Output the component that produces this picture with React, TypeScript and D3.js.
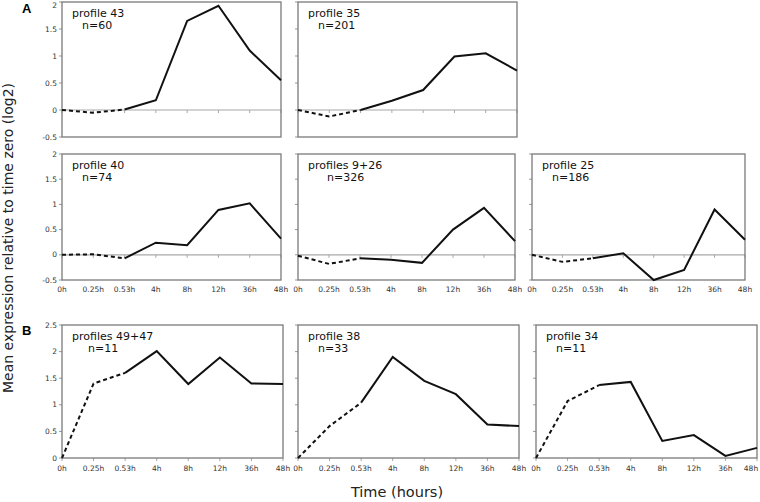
import React from "react";
import * as d3 from "d3";

const timeLabels = ["0h", "0.25h", "0.53h", "4h", "8h", "12h", "36h", "48h"];

const profile43 = [0, -0.05, 0.01, 0.18, 1.65, 1.93, 1.1, 0.55];
const profile35 = [0, -0.12, 0, 0.17, 0.37, 0.99, 1.05, 0.73];
const profile40 = [0, 0.01, -0.07, 0.24, 0.19, 0.89, 1.02, 0.32];
const profiles9_26 = [-0.02, -0.18, -0.07, -0.1, -0.16, 0.5, 0.93, 0.27];
const profile25 = [0, -0.14, -0.07, 0.03, -0.5, -0.3, 0.9, 0.3];
const profiles49_47 = [0, 1.4, 1.6, 2.01, 1.39, 1.89, 1.4, 1.39];
const profile38 = [0, 0.6, 1.04, 1.9, 1.45, 1.2, 0.63, 0.6];
const profile34 = [0, 1.07, 1.37, 1.43, 0.32, 0.43, 0.04, 0.19];

const rowATicks = [-0.5, 0, 0.5, 1, 1.5, 2];
const rowBTicks = [0, 0.5, 1, 1.5, 2, 2.5];

type Panel = { name: string; n: string; values: number[]; x0: number; x1: number };
type Row = {
  y0: number; y1: number; domain: [number, number]; ticks: number[];
  showX: boolean; panels: Panel[];
};

const rows: Row[] = [
  {
    y0: 2, y1: 137, domain: [-0.5, 2], ticks: rowATicks, showX: false,
    panels: [
      { name: "profile 43", n: "n=60", values: profile43, x0: 62, x1: 281 },
      { name: "profile 35", n: "n=201", values: profile35, x0: 298, x1: 517 },
    ],
  },
  {
    y0: 154, y1: 280, domain: [-0.5, 2], ticks: rowATicks, showX: true,
    panels: [
      { name: "profile 40", n: "n=74", values: profile40, x0: 62, x1: 281 },
      { name: "profiles 9+26", n: "n=326", values: profiles9_26, x0: 298, x1: 515 },
      { name: "profile 25", n: "n=186", values: profile25, x0: 532, x1: 745 },
    ],
  },
  {
    y0: 325, y1: 458, domain: [0, 2.5], ticks: rowBTicks, showX: true,
    panels: [
      { name: "profiles 49+47", n: "n=11", values: profiles49_47, x0: 62, x1: 283 },
      { name: "profile 38", n: "n=33", values: profile38, x0: 298, x1: 519 },
      { name: "profile 34", n: "n=11", values: profile34, x0: 536, x1: 757 },
    ],
  },
];

const FONT = "DejaVu Sans, Verdana, sans-serif";

function PanelView({ row, panel, first }: { row: Row; panel: Panel; first: boolean }) {
  const x = d3.scalePoint<string>().domain(timeLabels).range([panel.x0, panel.x1]);
  const y = d3.scaleLinear().domain(row.domain).range([row.y1, row.y0]);
  const pts = panel.values.map((v, i) => [x(timeLabels[i]) as number, y(v)] as [number, number]);
  const line = d3.line();
  const dashed = line(pts.slice(0, 3)) || "";
  const solid = line(pts.slice(2)) || "";
  const zeroY = y(0);
  const nOffset = panel.name.length > 11 ? (panel.name.length > 13 ? 26 : 29) : 20;
  return (
    <g>
      {row.domain[0] < 0 && (
        <line x1={panel.x0} x2={panel.x1} y1={zeroY} y2={zeroY} stroke="#a8a8a8" strokeWidth={1.2} />
      )}
      {timeLabels.map((t) => (
        <line key={t} x1={x(t)} x2={x(t)} y1={zeroY} y2={zeroY + 3} stroke="#a8a8a8" strokeWidth={1} />
      ))}
      {row.ticks.map((t) => (
        <line key={t} x1={panel.x0 - 3} x2={panel.x0} y1={y(t)} y2={y(t)} stroke="#999" strokeWidth={1} />
      ))}
      <rect x={panel.x0} y={row.y0} width={panel.x1 - panel.x0} height={row.y1 - row.y0}
        fill="none" stroke="#7a7a7a" strokeWidth={1.3} />
      <path d={dashed} fill="none" stroke="#111" strokeWidth={2} strokeDasharray="4,3" />
      <path d={solid} fill="none" stroke="#111" strokeWidth={2} strokeLinejoin="miter" />
      <text x={panel.x0 + 10} y={row.y0 + 15} fontFamily={FONT} fontSize={11} fill="#111">{panel.name}</text>
      <text x={panel.x0 + nOffset} y={row.y0 + 27} fontFamily={FONT} fontSize={11} fill="#111">{panel.n}</text>
      {first && row.ticks.map((t) => (
        <text key={"l" + t} x={panel.x0 - 5} y={Math.max(y(t) + 2.6, 8)} textAnchor="end" fontFamily={FONT}
          fontSize={7.5} fill="#333">{String(t)}</text>
      ))}
      {row.showX && timeLabels.map((t) => (
        <text key={"x" + t} x={Math.min(x(t) as number, 751)} y={row.y1 + (row.domain[0] < 0 ? 12 : 13)} textAnchor="middle"
          fontFamily={FONT} fontSize={7.5} fill="#333">{t}</text>
      ))}
    </g>
  );
}

export default function App() {
  return (
    <svg width={760} height={502} style={{ position: "absolute", left: 0, top: 0, background: "#fff" }}>
      <rect width={760} height={502} fill="#fff" />
      {rows.map((row, ri) =>
        row.panels.map((p, pi) => <PanelView key={ri + "-" + pi} row={row} panel={p} first={pi === 0} />)
      )}
      <text x={22} y={13} fontFamily="Liberation Sans, Arial, sans-serif" fontWeight="bold" fontSize={13}>A</text>
      <text x={22} y={335} fontFamily="Liberation Sans, Arial, sans-serif" fontWeight="bold" fontSize={13}>B</text>
      <text transform="translate(13,238) rotate(-90)" textAnchor="middle" fontFamily={FONT}
        fontSize={14} fill="#222">Mean expression relative to time zero (log2)</text>
      <text x={397} y={497} textAnchor="middle" fontFamily={FONT} fontSize={14.5} fill="#222">Time (hours)</text>
    </svg>
  );
}
